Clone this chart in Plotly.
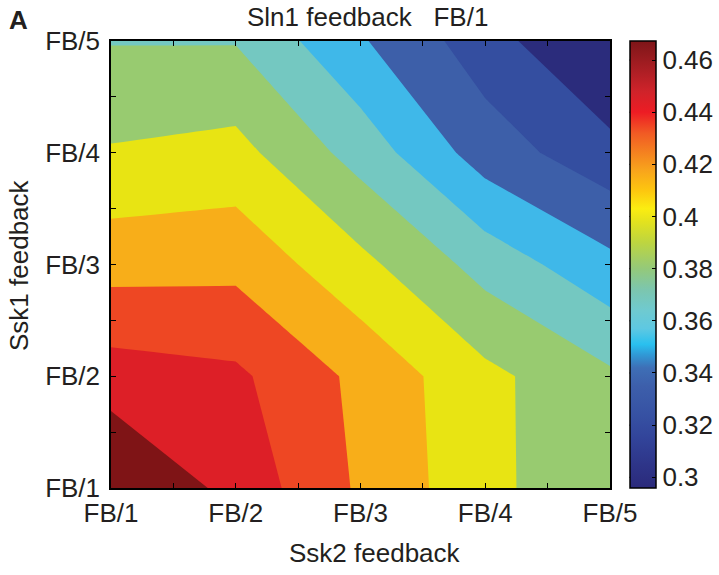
import plotly.graph_objects as go

# Feedback strengths on the two axes
x_levels = [1, 2, 3, 4, 5]
y_levels = [1, 2, 3, 4, 5]
tick_text = ["FB/1", "FB/2", "FB/3", "FB/4", "FB/5"]

# Response surface: rows follow Ssk1 feedback (FB/1 .. FB/5), columns Ssk2 feedback
z_values = [
    [0.4673, 0.4450, 0.4178, 0.3945, 0.3765],
    [0.4422, 0.4379, 0.4163, 0.3939, 0.3776],
    [0.4144, 0.4158, 0.3942, 0.3693, 0.3491],
    [0.3914, 0.3950, 0.3690, 0.3377, 0.3202],
    [0.3743, 0.3742, 0.3466, 0.3219, 0.2959],
]

# Contour levels
level_start, level_end, level_step = 0.315, 0.45, 0.015

# Fill colour of each band, lowest to highest
band_colors = [
    "#2b2c7c", "#344ea0", "#3d5fa9", "#3fb8e9", "#74c8c1", "#98cb70",
    "#e8e413", "#f8ae19", "#ee4723", "#dd1f27", "#7f1416",
]

# Colour bar gradient (value, colour)
cbar_min, cbar_max = 0.2959, 0.4673
cbar_stops = [
    (0.2959, "#2b2a7b"), (0.305, "#2e3589"), (0.315, "#32449a"),
    (0.325, "#3753a4"), (0.335, "#3d5fab"), (0.342, "#3e6fb6"),
    (0.347, "#3099d6"), (0.351, "#29c0ef"), (0.357, "#5ec8e2"),
    (0.364, "#6fcad0"), (0.372, "#7cc6ae"), (0.380, "#94c97a"),
    (0.390, "#bdd540"), (0.398, "#e3e21e"), (0.403, "#fbed11"),
    (0.410, "#fdc60f"), (0.418, "#f8a31c"), (0.425, "#f47f20"),
    (0.432, "#f15a24"), (0.440, "#ed1c24"), (0.448, "#cf232a"),
    (0.455, "#b01f25"), (0.462, "#931a1e"), (0.4673, "#7e1518"),
]
cbar_ticks = [0.30, 0.32, 0.34, 0.36, 0.38, 0.40, 0.42, 0.44, 0.46]
cbar_ticktext = ["0.3", "0.32", "0.34", "0.36", "0.38", "0.4", "0.42", "0.44", "0.46"]

TEXT = "#231f20"
FONT = "Liberation Sans, Arial, Helvetica, sans-serif"
FS = 26

W, H = 719, 575
M_L, M_R, M_T, M_B = 111, 109, 41, 87
plot_w = W - M_L - M_R
plot_h = H - M_T - M_B


def px_x(px):
    """Horizontal pixel position -> paper coordinate."""
    return (px - M_L) / plot_w


def px_y(py):
    """Vertical pixel position (from top) -> paper coordinate."""
    return 1 - (py - M_T) / plot_h


n_bands = len(band_colors)
band_scale = [[k / (n_bands - 1), c] for k, c in enumerate(band_colors)]

span = cbar_max - cbar_min
cbar_scale = [[(v - cbar_min) / span, c] for v, c in cbar_stops]
cbar_scale[0][0] = 0.0
cbar_scale[-1][0] = 1.0

fig = go.Figure()

fig.add_trace(go.Contour(
    x=x_levels,
    y=y_levels,
    z=z_values,
    contours=dict(start=level_start, end=level_end, size=level_step,
                  coloring="fill", showlines=False),
    line=dict(width=0, smoothing=0),
    colorscale=band_scale,
    showscale=False,
    hoverinfo="skip",
))

# Continuous colour bar
cb_x = px_x(629.5)
cb_thick = 26
fig.add_trace(go.Scatter(
    x=[None], y=[None], mode="markers", hoverinfo="skip", showlegend=False,
    marker=dict(
        color=[cbar_min], cmin=cbar_min, cmax=cbar_max, colorscale=cbar_scale,
        showscale=True,
        colorbar=dict(
            x=cb_x, xanchor="left", xpad=0, y=0.5, yanchor="middle", ypad=0,
            len=1, lenmode="fraction", thickness=cb_thick,
            outlinecolor="black", outlinewidth=1.5,
            tickmode="array", tickvals=cbar_ticks, ticktext=cbar_ticktext,
            ticks="inside", ticklen=4, tickcolor="black", tickwidth=1,
            tickfont=dict(family=FONT, size=FS, color=TEXT),
        ),
    ),
))

# Left-side ticks of the colour bar
shapes = []
for v in cbar_ticks:
    yy = (v - cbar_min) / span
    shapes.append(dict(type="line", xref="paper", yref="paper",
                       x0=cb_x, x1=cb_x + 4 / plot_w, y0=yy, y1=yy,
                       line=dict(color="black", width=1)))

axis_common = dict(
    range=[1, 5], tickmode="array", tickvals=x_levels, ticktext=tick_text,
    ticks="inside", ticklen=5, tickcolor="black", tickwidth=1,
    showline=True, linecolor="black", linewidth=1.5, mirror="ticks",
    showgrid=False, zeroline=False,
    tickfont=dict(family=FONT, size=FS, color=TEXT),
    minor=dict(tickvals=[1.5, 2.5, 3.5, 4.5], ticks="inside", ticklen=5,
               tickcolor="black", tickwidth=1, showgrid=False),
)

fig.update_layout(
    width=W, height=H,
    margin=dict(l=M_L, r=M_R, t=M_T, b=M_B, autoexpand=False),
    paper_bgcolor="white", plot_bgcolor="white",
    xaxis=dict(axis_common, ticklabelstandoff=1),
    yaxis=dict(axis_common, ticklabelstandoff=4),
    shapes=shapes,
    showlegend=False,
    annotations=[
        dict(text="Sln1 feedback\u00a0\u00a0 FB/1", xref="paper", yref="paper",
             x=px_x(245), y=px_y(17), xanchor="left", yanchor="middle",
             showarrow=False, font=dict(family=FONT, size=FS, color=TEXT)),
        dict(text="<b>A</b>", xref="paper", yref="paper",
             x=px_x(18), y=px_y(20),
             xanchor="center", yanchor="middle", showarrow=False,
             font=dict(family=FONT, size=FS, color=TEXT)),
        dict(text="Ssk2 feedback", xref="paper", yref="paper",
             x=px_x(375), y=px_y(553),
             xanchor="center", yanchor="middle", showarrow=False,
             font=dict(family=FONT, size=FS, color=TEXT)),
        dict(text="Ssk1 feedback", xref="paper", yref="paper",
             x=px_x(19), y=px_y(265), textangle=-90,
             xanchor="center", yanchor="middle", showarrow=False,
             font=dict(family=FONT, size=FS, color=TEXT)),
    ],
)

fig.write_html("out.html")
